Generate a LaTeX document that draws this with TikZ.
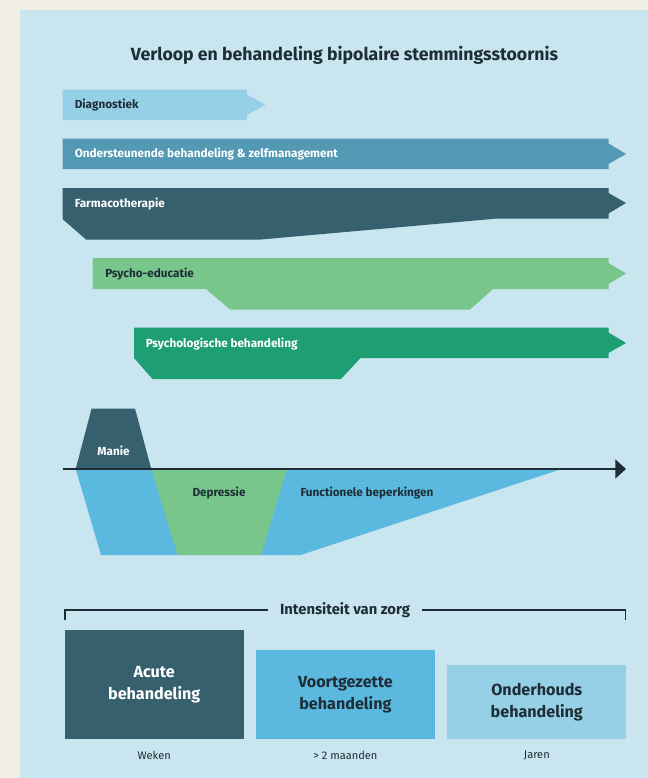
\documentclass[tikz,border=0pt]{standalone}
\usepackage{fontspec}
\setmainfont{Fira Sans}
\usepackage{xcolor}
\usetikzlibrary{arrows.meta,positioning}

\definecolor{outerbg}{HTML}{F2EFE9}
\definecolor{panelbg}{HTML}{C9E5EF}
\definecolor{lightblue}{HTML}{96D0E6}
\definecolor{midblue}{HTML}{5499B4}
\definecolor{darkteal}{HTML}{37606F}
\definecolor{lightgreen}{HTML}{78C68B}
\definecolor{darkgreen}{HTML}{1E9E73}
\definecolor{skyblue}{HTML}{5BB9DF}
\definecolor{darktxt}{HTML}{1E2D36}

\begin{document}
\begin{tikzpicture}[x=0.75pt,y=0.75pt,yscale=-1,xscale=1,
	lbl/.style={anchor=west,inner sep=0.75pt,font=\bfseries\fontsize{8.8}{10}\selectfont},
	box/.style={anchor=south west,inner sep=0pt,minimum width=134.3pt,align=center,font=\bfseries\fontsize{12.1}{16.5}\selectfont},
	dur/.style={inner sep=0.75pt,text=darktxt,font=\fontsize{8.3}{10}\selectfont}]
	\useasboundingbox (0,0) rectangle (648,778);
	%Background
	\fill[outerbg] (0,0) rectangle (648,778);
	\fill[panelbg] (20,9.5) rectangle (648,778);
	
	% Text Node
	\draw (344.5,55) node [inner sep=0.75pt,text=darktxt,font=\bfseries\fontsize{13.25}{15}\selectfont] (title) {Verloop en behandeling bipolaire stemmingsstoornis};
	
	%Shape: Arrow [diagnostiek]
	\fill[lightblue] (62.5,89.5) -- (247,89.5) -- (247,94.5) -- (265.5,105) -- (247,115) -- (247,120) -- (62.5,120) -- cycle ;
	%Shape: Arrow [ondersteunend]
	\fill[midblue] (62.5,138.5) -- (608.5,138.5) -- (608.5,143.5) -- (626,154) -- (608.5,164) -- (608.5,169) -- (62.5,169) -- cycle ;
	%Shape: Arrow [farmaco]
	\fill[darkteal] (62.5,188) -- (608.5,188) -- (608.5,193) -- (626,203) -- (608.5,213.5) -- (608.5,218.5) -- (497.5,218.5) -- (261,239.5) -- (86,239.5) -- (62.5,219) -- cycle ;
	%Shape: Arrow [psycho-educatie]
	\fill[lightgreen] (92.5,258) -- (608.5,258) -- (608.5,263) -- (626,273.5) -- (608.5,284) -- (608.5,289) -- (493,289) -- (470,309.5) -- (230,309.5) -- (206,289) -- (92.5,289) -- cycle ;
	%Shape: Arrow [psychologisch]
	\fill[darkgreen] (134,327.5) -- (608.5,327.5) -- (608.5,332.5) -- (626,343) -- (608.5,353) -- (608.5,358) -- (360.5,358) -- (341,379) -- (152.5,379) -- (134,358) -- cycle ;
	
	% Text Node
	\draw (73.5,105) node [lbl,text=darktxt] (diag) {Diagnostiek};
	% Text Node
	\draw (73.5,154) node [lbl,text=white] (onder) {Ondersteunende behandeling \& zelfmanagement};
	% Text Node
	\draw (73.5,204) node [lbl,text=white] (farma) {Farmacotherapie};
	% Text Node
	\draw (104,274) node [lbl,text=darktxt] (educ) {Psycho-educatie};
	% Text Node
	\draw (144.5,344) node [lbl,text=white] (psych) {Psychologische behandeling};
	
	%Shape: Polygon [functionele beperkingen]
	\fill[skyblue] (75.7,469) -- (561.5,469) -- (300.6,555) -- (101,555) -- cycle ;
	%Shape: Polygon [depressie]
	\fill[lightgreen] (151.3,469) -- (287,469) -- (261,555) -- (177.6,555) -- cycle ;
	%Shape: Polygon [manie]
	\fill[darkteal] (75.7,469) -- (91.6,408.5) -- (135,408.5) -- (151.3,469) -- cycle ;
	%Straight Lines [tijdlijn]
	\coordinate (t0) at (62.5,469) ;
	\coordinate (t1) at (626,469) ;
	\draw [darktxt,line width=2pt,-{Triangle[length=8pt,width=14pt]}] (t0) -- (t1) ;
	
	% Text Node
	\draw (113.5,451) node [inner sep=0.75pt,text=white,font=\bfseries\fontsize{8.8}{10}\selectfont] (manie) {Manie};
	% Text Node
	\draw (219,493) node [inner sep=0.75pt,text=darktxt,font=\bfseries\fontsize{8.8}{10}\selectfont] (depr) {Depressie};
	% Text Node
	\draw (367,493) node [inner sep=0.75pt,text=darktxt,font=\bfseries\fontsize{8.8}{10}\selectfont] (funct) {Functionele beperkingen};
	
	% Text Node
	\draw (345,610) node [inner xsep=8.5pt,inner ysep=0.75pt,text=darktxt,font=\bfseries\fontsize{11.1}{12}\selectfont] (zorg) {Intensiteit van zorg};
	%Straight Lines [haak]
	\coordinate (hl) at (65.2,620) ;
	\coordinate (hr) at (625.5,620) ;
	\draw [darktxt,line width=1.1pt] (hl) |- (zorg.west) ;
	\draw [darktxt,line width=1.1pt] (zorg.east) -| (hr) ;
	
	%Shape: Rectangle [acuut]
	\draw (64.4,739.3) node [box,fill=darkteal,text=white,minimum height=82pt] (acuut) {Acute\\behandeling};
	%Shape: Rectangle [voortgezet]
	\draw (255.6,739.3) node [box,fill=skyblue,text=darktxt,minimum height=67pt] (voort) {Voortgezette\\behandeling};
	%Shape: Rectangle [onderhoud]
	\draw (447,739.3) node [box,fill=lightblue,text=darktxt,minimum height=55.5pt] (onderh) {Onderhouds\\behandeling};
	
	% Text Node
	\node [dur,below=8pt of acuut] (weken) {Weken};
	% Text Node
	\node [dur,below=8pt of voort] (maanden) {> 2 maanden};
	% Text Node
	\node [dur,below=8pt of onderh] (jaren) {Jaren};
\end{tikzpicture}
\end{document}
